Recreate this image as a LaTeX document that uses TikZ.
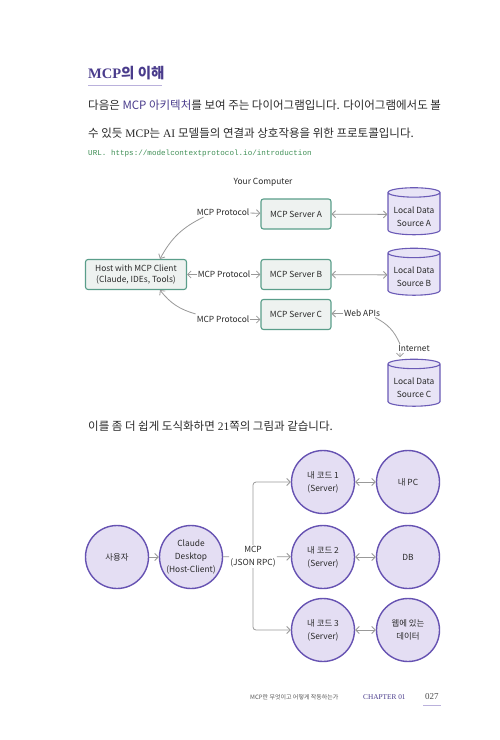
\documentclass[tikz,border=0pt]{standalone}
\usepackage{fontspec}
\setmainfont{Liberation Serif}
\newfontfamily\kr{Noto Sans CJK KR}
\newfontfamily\monof{Liberation Mono}
\usetikzlibrary{shapes.geometric,arrows.meta}
\definecolor{titlec}{HTML}{4A3C8C}
\definecolor{boxd}{HTML}{5A9E8A}
\definecolor{boxf}{HTML}{EEF2F0}
\definecolor{cyld}{HTML}{6A5AB6}
\definecolor{cylf}{HTML}{E8E4F6}
\definecolor{cird}{HTML}{6652B2}
\definecolor{cirf}{HTML}{E4DEF3}
\definecolor{urlc}{HTML}{3F8F55}
\definecolor{linec}{HTML}{999999}
\definecolor{textc}{HTML}{2A2A2A}
\begin{document}
\begin{tikzpicture}[x=1pt,y=-1pt,
  every node/.style={text=textc},
  box/.style={draw=boxd,fill=boxf,line width=1.1pt,rounded corners=2.5pt,minimum width=70pt,minimum height=30pt,inner sep=1pt,font=\kr\fontsize{8.4}{10.5}\selectfont,align=center},
  cyl/.style={cylinder,shape border rotate=90,aspect=0.22,draw=cyld,fill=cylf,line width=1.1pt,minimum width=52pt,minimum height=47pt,inner sep=1pt,font=\kr\fontsize{8.4}{13}\selectfont,align=center},
  lab/.style={inner sep=1pt,font=\kr\fontsize{8.4}{10}\selectfont,align=center},
  circ/.style={circle,draw=cird,fill=cirf,line width=1.4pt,minimum size=63pt,inner sep=0pt,font=\kr\fontsize{8.4}{13}\selectfont,align=center},
  arr/.style={draw=linec,line width=0.8pt,-{Straight Barb[length=3.5pt,width=7pt]}},
  darr/.style={draw=linec,line width=0.8pt,{Straight Barb[length=3.5pt,width=7pt]}-{Straight Barb[length=3.5pt,width=7pt]}},
  pline/.style={draw=linec,line width=0.8pt},
  txt/.style={anchor=west,inner sep=0pt}
]
\path[use as bounding box,fill=white] (0,0) rectangle (500,740);

% heading and text
\node[txt,text=titlec] (title) at (88,73) {\bfseries\fontsize{14.5}{16}\selectfont MCP{\kr 의 이해}};
\draw[draw=cird!45,line width=0.8pt] (88,85) -- (162,85);
\node[txt] (l1) at (88,105) {\fontsize{11.5}{13}\selectfont{\kr 다음은 }{\kr\color{titlec}MCP 아키텍처}{\kr 를 보여 주는 다이어그램입니다. 다이어그램에서도 볼}};
\node[txt] (l2) at (88,133) {\fontsize{11.5}{13}\selectfont{\kr 수 있듯} MCP{\kr 는} AI {\kr 모델들의 연결과 상호작용을 위한 프로토콜입니다.}};
\node[txt,text=urlc] (url) at (88,154) {\monof\fontsize{7.6}{9}\selectfont URL. https://modelcontextprotocol.io/introduction};

% diagram 1
\node[lab] (yc) at (263,182) {Your Computer};
\node[box] (sa) at (296,214) {MCP Server A};
\node[box] (sb) at (296,274.5) {MCP Server B};
\node[box] (sc) at (296,314.5) {MCP Server C};
\node[box,minimum width=101pt] (host) at (136,274.5) {Host with MCP Client\\(Claude, IDEs, Tools)};
\node[cyl] (la) at (414,214.5) {\\[-2pt]Local Data\\Source A};
\node[cyl] (lb) at (414,275) {\\[-2pt]Local Data\\Source B};
\node[cyl] (lc) at (414,386) {\\[-2pt]Local Data\\Source C};

\node[lab] (p1) at (223,212.5) {MCP Protocol};
\node[lab] (p2) at (224,274.5) {MCP Protocol};
\node[lab] (p3) at (223,319.5) {MCP Protocol};
\node[lab] (wa) at (362,313) {Web APIs};
\node[lab] (inet) at (414,348.5) {Internet};

\draw[arr] (p1) -- (sa);
\draw[arr] ([xshift=8pt]p1.south west) to[bend right=18] ([xshift=24pt]host.north);
\draw[arr] (p2) -- (host);
\draw[arr] (p2) -- (sb);
\draw[arr] (p3.east) -- (sc.west |- p3.east);
\draw[arr] ([yshift=1pt]p3.north west) to[bend left=18] ([xshift=24pt]host.south);
\draw[darr] (sa) -- (la);
\draw[darr] (sb) -- (lb);
\draw[arr] (wa) -- (sc);
\draw[pline] ([xshift=-6pt]wa.south east) to[bend left=20] ([xshift=-14pt]inet.north);
\draw[arr] ([xshift=-14pt]inet.south) -- ([xshift=-14pt,yshift=1.5pt]lc.north);

\node[txt] (l3) at (88,426) {\fontsize{11.5}{13}\selectfont{\kr 이를 좀 더 쉽게 도식화하면} 21{\kr 쪽의 그림과 같습니다.}};

% diagram 2
\node[circ] (user) at (117,557) {사용자};
\node[circ] (cd) at (191,557) {Claude\\Desktop\\(Host-Client)};
\node[circ] (c1) at (323,482) {내 코드 1\\(Server)};
\node[circ] (c2) at (323,557) {내 코드 2\\(Server)};
\node[circ] (c3) at (323,630) {내 코드 3\\(Server)};
\node[circ] (pc) at (408,482) {내 PC};
\node[circ] (db) at (408,557) {DB};
\node[circ] (web) at (408,630) {웹에 있는\\데이터};
\node[lab,font=\kr\fontsize{8.4}{13}\selectfont] (mcp) at (253,556.5) {MCP\\(JSON RPC)};

\draw[arr] (user) -- (cd);
\draw[pline] (cd) -- (mcp);
\draw[arr] (mcp) -- (c2);
\draw[arr,rounded corners=3pt] (mcp.north) -- (mcp.north |- c1) -- (c1);
\draw[arr,rounded corners=3pt] (mcp.south) -- (mcp.south |- c3) -- (c3);
\draw[darr] (c1) -- (pc);
\draw[darr] (c2) -- (db);
\draw[darr] (c3) -- (web);

% footer
\node[txt,text=black!65] (f1) at (250,697) {\kr\fontsize{6}{7}\selectfont MCP란 무엇이고 어떻게 작동하는가};
\node[txt,text=titlec] (f2) at (363,697) {\fontsize{7.3}{8}\selectfont CHAPTER 01};
\node[txt,text=black!70] (f3) at (425,696.5) {\fontsize{9}{10}\selectfont 027};
\draw[draw=cird!45,line width=0.8pt] (423,705) -- (441,705);
\end{tikzpicture}
\end{document}
